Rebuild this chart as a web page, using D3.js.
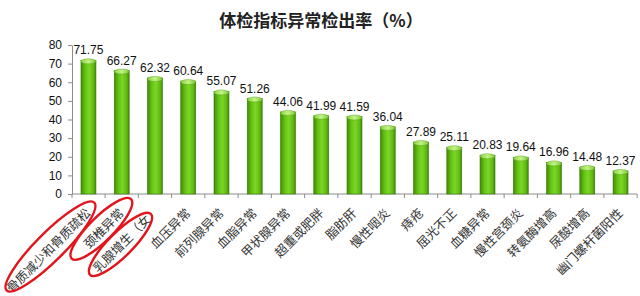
<!DOCTYPE html>
<html>
<head>
<meta charset="utf-8">
<script src="https://cdn.jsdelivr.net/npm/d3@7"></script>
<style>
  body { margin: 0; background: #fff; }
  svg { display: block; }
  .y-axis text { font-family: Arial, "Liberation Sans", sans-serif; font-size: 12px; fill: #111; }
  .axis path, .axis line { stroke: #8c8c8c; }
</style>
</head>
<body>
<svg id="chart" width="640" height="296"></svg>
<script>
const categories = [
  '骨质减少和骨质疏松', '颈椎异常', '乳腺增生（女', '血压异常', '前列腺异常',
  '血脂异常', '甲状腺异常', '超重或肥胖', '脂肪肝', '慢性咽炎', '痔疮',
  '屈光不正', '血糖异常', '慢性宫颈炎', '转氨酶增高', '尿酸增高', '幽门螺杆菌阳性'
];
const values = [
  71.75, 66.27, 62.32, 60.64, 55.07, 51.26, 44.06, 41.99, 41.59,
  36.04, 27.89, 25.11, 20.83, 19.64, 16.96, 14.48, 12.37
];
const yTicks = [0, 10, 20, 30, 40, 50, 60, 70, 80];
// labels circled in red on the original
const circled = [0, 1, 2];

const svg = d3.select('#chart');

const margin = { top: 45, right: 3, bottom: 102, left: 72 };
const W = 640, H = 296;
const chartWidth = W - margin.left - margin.right;
const chartHeight = H - margin.top - margin.bottom;

//
// gradients
//
const defs = svg.append('defs');
const bodyGrad = defs.append('linearGradient').attr('id', 'barBody')
  .attr('x1', 0).attr('x2', 1).attr('y1', 0).attr('y2', 0);
bodyGrad.append('stop').attr('offset', '0%').attr('stop-color', '#3f8c04');
bodyGrad.append('stop').attr('offset', '30%').attr('stop-color', '#66c414');
bodyGrad.append('stop').attr('offset', '55%').attr('stop-color', '#7cd626');
bodyGrad.append('stop').attr('offset', '85%').attr('stop-color', '#5fb812');
bodyGrad.append('stop').attr('offset', '100%').attr('stop-color', '#3c8604');

const capGrad = defs.append('linearGradient').attr('id', 'barCap')
  .attr('x1', 0).attr('x2', 1).attr('y1', 0).attr('y2', 0);
capGrad.append('stop').attr('offset', '0%').attr('stop-color', '#86d440');
capGrad.append('stop').attr('offset', '50%').attr('stop-color', '#c4f286');
capGrad.append('stop').attr('offset', '100%').attr('stop-color', '#7ccb36');

const root = svg.append('g')
  .attr('transform', `translate(${margin.left},${margin.top})`);

//
// scales
//
const x = d3.scaleBand().domain(categories).range([0, chartWidth])
  .paddingInner(0.55).paddingOuter(0.27);
const y = d3.scaleLinear().domain([0, 80]).range([chartHeight, 0]);

//
// title
//
svg.append('text')
  .attr('x', 321).attr('y', 27)
  .attr('text-anchor', 'middle')
  .style('font-family', '"Noto Sans CJK SC", sans-serif')
  .style('font-weight', 'bold')
  .style('font-size', '17px')
  .style('fill', '#222')
  .text('体检指标异常检出率（%）');

//
// Y axis
//
root.append('g')
  .attr('class', 'axis y-axis')
  .call(d3.axisLeft(y).tickValues(yTicks).tickSize(4).tickPadding(6).tickSizeOuter(0));

//
// X axis (ticks at band boundaries)
//
const xAxis = root.append('g')
  .attr('class', 'axis x-axis')
  .attr('transform', `translate(0,${chartHeight})`);
xAxis.append('line')
  .attr('x1', 0).attr('x2', chartWidth)
  .attr('y1', 0).attr('y2', 0);
const step = x.step();
const x0 = x(categories[0]) - step * x.paddingInner() / 2;
xAxis.selectAll('.tick-line')
  .data(d3.range(categories.length + 1))
  .enter().append('line')
  .attr('x1', (i) => Math.max(0, x0 + i * step))
  .attr('x2', (i) => Math.max(0, x0 + i * step))
  .attr('y1', 0).attr('y2', 4);

//
// bars
//
const bw = x.bandwidth();
const capH = 5;
const bars = root.append('g').selectAll('g')
  .data(values)
  .enter().append('g');

bars.append('rect')
  .attr('x', (d, i) => x(categories[i]))
  .attr('y', (d) => y(d))
  .attr('width', bw)
  .attr('height', (d) => chartHeight - y(d))
  .attr('fill', 'url(#barBody)')
  .attr('stroke', '#3a7a0a')
  .attr('stroke-width', 0.6);

bars.append('ellipse')
  .attr('cx', (d, i) => x(categories[i]) + bw / 2)
  .attr('cy', (d) => y(d) + 1)
  .attr('rx', bw / 2)
  .attr('ry', capH / 2)
  .attr('fill', 'url(#barCap)')
  .attr('stroke', '#5aa61a')
  .attr('stroke-width', 0.5);

//
// value labels
//
root.append('g').selectAll('text')
  .data(values)
  .enter().append('text')
  .attr('x', (d, i) => x(categories[i]) + bw / 2)
  .attr('y', (d) => y(d) - 6)
  .attr('text-anchor', 'middle')
  .style('font-family', 'Arial, "Liberation Sans", sans-serif')
  .style('font-size', '12px')
  .style('fill', '#111')
  .text((d) => d.toFixed(2));

//
// category labels, rotated
//
const labelDy = 20;
const anchorOf = (d) => [x(d) + bw / 2 + 3, chartHeight + labelDy];
root.append('g').selectAll('text')
  .data(categories)
  .enter().append('text')
  .attr('transform', (d) => {
    const [ax, ay] = anchorOf(d);
    return `translate(${ax},${ay}) rotate(-45)`;
  })
  .attr('dx', (d, i) => (i === 2 ? -9 : 0))
  .attr('text-anchor', 'end')
  .style('font-family', '"Noto Sans CJK SC", sans-serif')
  .style('font-size', '12.5px')
  .style('fill', '#333')
  .text((d) => d);

//
// red annotation ellipses around the first labels
// (offset along / up the label direction, half axes)
//
const ringAlong = [-52, -27, -48];
const ringUp = [6, 6, 5];
const ringRx = [62, 42, 43];
const ringRy = [14, 12, 12];
root.append('g').selectAll('ellipse')
  .data(circled)
  .enter().append('ellipse')
  .attr('transform', (i) => {
    const [ax, ay] = anchorOf(categories[i]);
    return `translate(${ax},${ay}) rotate(-45) translate(${ringAlong[i]},${-ringUp[i]})`;
  })
  .attr('rx', (i) => ringRx[i])
  .attr('ry', (i) => ringRy[i])
  .attr('fill', 'none')
  .attr('stroke', '#e3141c')
  .attr('stroke-width', 2.4);
</script>
</body>
</html>
